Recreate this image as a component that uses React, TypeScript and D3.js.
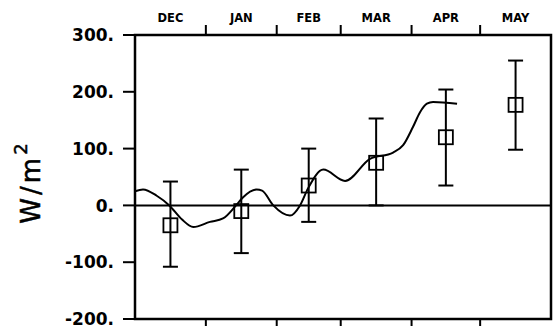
import React from "react";
import * as d3 from "d3";

// Monthly means with error bars
const months = ["DEC", "JAN", "FEB", "MAR", "APR", "MAY"];
const monthDays = [31, 31, 28, 31, 30, 31];
const means = [-35, -10, 35, 75, 120, 177];
const upper = [42, 63, 100, 153, 204, 255];
const lower = [-108, -84, -29, 0, 35, 98];

// Continuous series: day since 1 Dec, value (W/m^2)
const seriesDays = [0, 3.5, 9.5, 15, 20.6, 25.5, 32.8, 38.5, 44.2, 47.2, 53.2, 55.6, 60.5, 67.8, 72.2, 75.7, 82.4, 91.9, 102.8, 112.9, 117.3, 121.6, 124.7, 127.7, 130.4, 140.9];
const seriesValues = [25, 28, 17, 0, -25, -38, -29, -23, 0, 14, 28, 26, 0, -18, 0, 30, 63, 43, 82, 93, 106, 138, 164, 179, 182, 179];

const yTicks = [300, 200, 100, 0, -100, -200];

const W = 553;
const H = 326;
const left = 135;
const right = 551;
const top = 35;
const bottom = 319;

export default function App() {
  const totalDays = d3.sum(monthDays);
  const x = d3.scaleLinear().domain([0, totalDays]).range([left, right]);
  const y = d3.scaleLinear().domain([-200, 300]).range([bottom, top]);

  const starts: number[] = [];
  let acc = 0;
  monthDays.forEach((d) => {
    starts.push(acc);
    acc += d;
  });
  const boundaries = [...starts, totalDays];
  const mids = starts.map((s, i) => s + monthDays[i] / 2);

  const line = d3
    .line<number>()
    .x((_, i) => x(seriesDays[i]))
    .y((v) => y(v))
    .curve(d3.curveMonotoneX);

  const font = "'DejaVu Sans', sans-serif";
  const sq = 14;
  const cap = 15;

  return (
    <svg width={W} height={H} style={{ position: "absolute", left: 0, top: 0 }}>
      <rect width={W} height={H} fill="white" />
      {/* frame */}
      <rect x={left} y={top} width={right - left} height={bottom - top} fill="none" stroke="black" strokeWidth={2.5} />
      {/* zero line */}
      <line x1={left} x2={right} y1={y(0)} y2={y(0)} stroke="black" strokeWidth={2} />
      {/* y ticks and labels */}
      {yTicks.map((t) => (
        <g key={t}>
          <line x1={left - 12} x2={left} y1={y(t)} y2={y(t)} stroke="black" strokeWidth={2} />
          <text x={114} y={y(t)} dy="0.36em" textAnchor="end" fontFamily={font} fontWeight="bold" fontSize={17}>
            {t === 0 ? "0." : `${t}.`}
          </text>
        </g>
      ))}
      {/* month ticks top and bottom */}
      {boundaries.slice(1, -1).map((b) => (
        <g key={b}>
          <line x1={x(b)} x2={x(b)} y1={top} y2={top - 10} stroke="black" strokeWidth={2} />
          <line x1={x(b)} x2={x(b)} y1={bottom} y2={bottom + 7} stroke="black" strokeWidth={2} />
        </g>
      ))}
      {months.map((m, i) => (
        <text key={m} x={x(mids[i])} y={22} textAnchor="middle" fontFamily={font} fontWeight="bold" fontSize={11.5}>
          {m}
        </text>
      ))}
      {/* axis title */}
      <text
        transform={`translate(40,182) rotate(-90)`}
        textAnchor="middle"
        fontFamily={font}
        fontSize={26}
        letterSpacing={3}
        stroke="black"
        strokeWidth={0.5}
      >
        W/m<tspan dy="-13" fontSize={18}>2</tspan>
      </text>
      {/* continuous series */}
      <path d={line(seriesValues) || ""} fill="none" stroke="black" strokeWidth={2} />
      {/* error bars with square markers */}
      {months.map((m, i) => {
        const cx = x(mids[i]);
        return (
          <g key={`e${m}`} stroke="black" strokeWidth={2} fill="none">
            <line x1={cx} x2={cx} y1={y(upper[i])} y2={y(lower[i])} />
            <line x1={cx - cap / 2} x2={cx + cap / 2} y1={y(upper[i])} y2={y(upper[i])} />
            <line x1={cx - cap / 2} x2={cx + cap / 2} y1={y(lower[i])} y2={y(lower[i])} />
            <rect x={cx - sq / 2} y={y(means[i]) - sq / 2} width={sq} height={sq} strokeWidth={1.8} />
          </g>
        );
      })}
    </svg>
  );
}
